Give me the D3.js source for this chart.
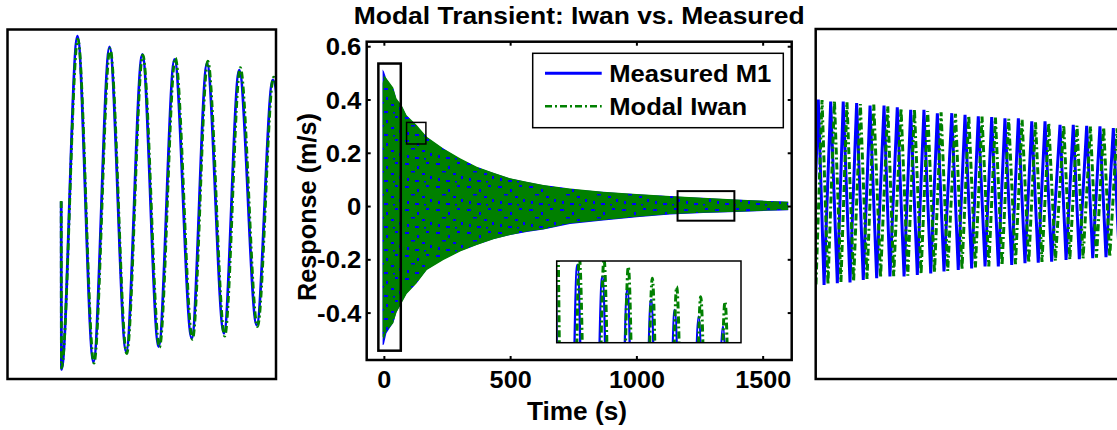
<!DOCTYPE html>
<html>
<head>
<meta charset="utf-8">
<script src="https://d3js.org/d3.v7.min.js"></script>
<style>
  body { margin: 0; background: #fff; }
  svg { display: block; font-family: "Liberation Sans", Arial, sans-serif; font-weight: bold; }
</style>
</head>
<body>
<div id="chart"></div>
<script>
// envelope of the whole record, main axes (time in s, response in m/s)
const envTime = [-5, 0, 10, 37, 50, 70, 90, 130, 170, 236, 302, 368, 434, 500, 566, 632, 737, 869, 1001, 1133, 1265, 1397, 1520, 1601];
const measuredTop = [0.513, 0.505, 0.478, 0.44, 0.40, 0.376, 0.338, 0.30, 0.257, 0.214, 0.177, 0.146, 0.124, 0.103, 0.09, 0.078, 0.064, 0.053, 0.044, 0.037, 0.030, 0.024, 0.019, 0.016];
const measuredBottom = [-0.522, -0.52, -0.478, -0.438, -0.398, -0.362, -0.327, -0.287, -0.238, -0.2, -0.169, -0.145, -0.124, -0.109, -0.097, -0.088, -0.067, -0.054, -0.042, -0.032, -0.026, -0.022, -0.018, -0.016];
const iwanTop = [0.46, 0.49, 0.48, 0.445, 0.404, 0.379, 0.341, 0.304, 0.26, 0.2165, 0.179, 0.1475, 0.125, 0.104, 0.091, 0.079, 0.066, 0.054, 0.045, 0.0375, 0.031, 0.025, 0.019, 0.016];
const iwanBottom = [-0.49, -0.50, -0.47, -0.44, -0.40, -0.365, -0.33, -0.29, -0.24, -0.2026, -0.171, -0.146, -0.125, -0.109, -0.096, -0.087, -0.065, -0.052, -0.040, -0.030, -0.025, -0.021, -0.017, -0.015];

const xTicks = [0, 500, 1000, 1500];
const yTicks = [-0.4, -0.2, 0, 0.2, 0.4, 0.6];
const seriesNames = ["Measured M1", "Modal Iwan"];

// zoom windows marked on the main axes: [t0, t1], [v0, v1]
const boxTimes = [[-21.8, 67], [89.9, 166.4], [1163, 1388]];
const boxLevels = [[-0.543, 0.535], [0.233, 0.314], [-0.055, 0.056]];

// left panel: start of the record, extrema of each half cycle
const startT = [0, 0.001, 0.0605, 0.120, 0.180, 0.242, 0.302, 0.363, 0.422, 0.486, 0.543, 0.606, 0.663, 0.728, 0.788, 0.85];
const startMeasured = [0.008, -0.52, 0.529, -0.496, 0.495, -0.464, 0.472, -0.448, 0.456, -0.422, 0.443, -0.406, 0.422, -0.380, 0.391, -0.36];
const startIwanT = [0, 0.001, 0.062, 0.122, 0.182, 0.244, 0.304, 0.366, 0.425, 0.489, 0.546, 0.609, 0.667, 0.731, 0.791, 0.853];
const startIwan = [0.01, -0.515, 0.52, -0.50, 0.49, -0.47, 0.47, -0.45, 0.46, -0.425, 0.45, -0.415, 0.43, -0.385, 0.40, -0.365];

// small inset: tops of the peaks around t = 90..166 s
const peakMeasuredT = [89.5, 93.5, 98.45, 103.6, 108.83, 114.0, 119.2, 124.1, 129.05, 134.0, 138.9, 143.9, 148.8, 153.8, 158.9, 164.0, 169.0];
const peakMeasured = [0.31, -0.29, 0.310, -0.285, 0.2984, -0.28, 0.2853, -0.27, 0.2753, -0.265, 0.2654, -0.26, 0.2588, -0.25, 0.2489, -0.245, 0.245];
const peakIwanT = [90.56, 95.0, 99.28, 104.4, 109.53, 114.6, 119.62, 124.6, 129.58, 134.6, 139.71, 144.7, 149.67, 154.7, 159.76, 164.8, 169.8];
const peakIwan = [0.32, -0.29, 0.318, -0.285, 0.316, -0.28, 0.3083, -0.275, 0.2968, -0.27, 0.2885, -0.26, 0.2786, -0.255, 0.2736, -0.25, 0.27];

// right panel: late part of the record (t = 1163..1388 s)
const lateMeasuredT = [1160.5, 1164.8, 1168.8, 1173.4, 1178.0, 1182.1, 1186.8, 1191.4, 1196.0, 1200.7, 1205.3, 1210.4, 1214.5, 1219.6, 1224.3, 1228.9, 1233.5, 1238.1, 1242.8, 1247.4, 1252.0, 1257.4, 1261.9, 1266.6, 1271.2, 1275.8, 1280.5, 1285.1, 1289.7, 1294.3, 1299.0, 1303.6, 1308.2, 1312.9, 1317.4, 1322.1, 1326.7, 1332.5, 1336.7, 1341.7, 1345.9, 1351.0, 1355.2, 1360.2, 1364.4, 1369.5, 1373.6, 1378.6];
const lateMeasured = [-0.0255, 0.0336, -0.0252, 0.0330, -0.0246, 0.0330, -0.0244, 0.0325, -0.0236, 0.0317, -0.0230, 0.0317, -0.0225, 0.0312, -0.0225, 0.0304, -0.0220, 0.0304, -0.0215, 0.0293, -0.0209, 0.0293, -0.0204, 0.0288, -0.0199, 0.0283, -0.0193, 0.0281, -0.0193, 0.0277, -0.0188, 0.0277, -0.0183, 0.0267, -0.0181, 0.0267, -0.0178, 0.0256, -0.0172, 0.0256, -0.0170, 0.0253, -0.0167, 0.0251, -0.0164, 0.0246, -0.0161, 0.0243];
const lateIwanT = [1163.2, 1167.4, 1171.5, 1176.0, 1180.5, 1184.7, 1189.3, 1194.0, 1198.6, 1203.3, 1208.0, 1213.0, 1217.1, 1222.2, 1226.9, 1231.5, 1236.1, 1240.7, 1245.4, 1250.0, 1254.6, 1260.0, 1264.5, 1269.2, 1273.8, 1278.4, 1283.1, 1287.7, 1292.3, 1296.9, 1301.6, 1306.2, 1310.8, 1315.5, 1320.0, 1324.7, 1329.3, 1335.1, 1339.3, 1344.3, 1348.5, 1353.6, 1357.8, 1362.8, 1367.0, 1372.1, 1376.2];
const lateIwan = [-0.0250, 0.0335, -0.0250, 0.0333, -0.0243, 0.0328, -0.0240, 0.0322, -0.0233, 0.0320, -0.0228, 0.0315, -0.0224, 0.0309, -0.0222, 0.0306, -0.0217, 0.0300, -0.0212, 0.0296, -0.0207, 0.0291, -0.0202, 0.0286, -0.0196, 0.0282, -0.0193, 0.0279, -0.0190, 0.0275, -0.0186, 0.0272, -0.0182, 0.0265, -0.0179, 0.0262, -0.0175, 0.0255, -0.0171, 0.0254, -0.0168, 0.0251, -0.0165, 0.0248, -0.0163, 0.0245, -0.0160];

const blue = "#0000ff", green = "#008000";
const dashDot = "7,3,2,3";

let W = 1117, H = 430;
let svg = d3.select("#chart").append("svg").attr("width", W).attr("height", H);
let defs = svg.append("defs");

// green band with the measured trace showing through the dash gaps
let pat = defs.append("pattern").attr("id", "speckle")
    .attr("patternUnits", "userSpaceOnUse").attr("width", 31).attr("height", 23);
pat.append("rect").attr("width", 31).attr("height", 23).attr("fill", green);
[[2, 2, 4, 2], [14, 5, 2, 3], [23, 1, 3, 2], [8, 10, 4, 1.5], [19, 12, 3, 2], [27, 15, 2, 3], [4, 17, 2, 3], [12, 19, 4, 2], [21, 20, 2, 1.5]].forEach(r => {
    pat.append("rect").attr("x", r[0]).attr("y", r[1]).attr("width", r[2]).attr("height", r[3]).attr("fill", blue);
});

function label(g, txt, x, y, size, sx, anchor, rot) {
    return g.append("text")
        .attr("transform", `translate(${x},${y}) rotate(${rot || 0}) scale(${sx},1)`)
        .attr("text-anchor", anchor)
        .style("font-size", size + "px")
        .text(txt);
}

// ---------------- main axes ----------------
let m = { left: 366.7, right: 791.7, top: 41.7, bottom: 360 };
let x = d3.scaleLinear().domain([-68, 1615]).range([m.left, m.right]);
let y = d3.scaleLinear().domain([-0.578, 0.617]).range([m.bottom, m.top]);

let main = svg.append("g");

let pts = envTime.map((t, i) => ({ t: t, mt: measuredTop[i], mb: measuredBottom[i], it: iwanTop[i], ib: iwanBottom[i] }));

main.append("path").datum(pts)
    .attr("d", d3.area().x(d => x(d.t)).y0(d => y(d.mb)).y1(d => y(d.mt)))
    .attr("fill", blue);
main.append("path").datum(pts)
    .attr("d", d3.area().x(d => x(d.t)).y0(d => y(d.ib)).y1(d => y(d.it)))
    .attr("fill", "url(#speckle)");

// zoom windows
let boxWidths = [2.5, 1.5, 2];
boxTimes.forEach((bt, i) => {
    main.append("rect")
        .attr("x", x(bt[0])).attr("y", y(boxLevels[i][1]))
        .attr("width", x(bt[1]) - x(bt[0])).attr("height", y(boxLevels[i][0]) - y(boxLevels[i][1]))
        .attr("fill", "none").attr("stroke", "black").attr("stroke-width", boxWidths[i]);
});

// axes with inward ticks
let xAxis = main.append("g").attr("transform", `translate(0,${m.bottom})`)
    .call(d3.axisBottom(x).tickValues(xTicks).tickSize(-4).tickPadding(11).tickFormat(d3.format("d")));
main.append("g").attr("transform", `translate(0,${m.top})`)
    .call(d3.axisTop(x).tickValues(xTicks).tickSize(-4).tickFormat(""));
let yAxis = main.append("g").attr("transform", `translate(${m.left},0)`)
    .call(d3.axisLeft(y).tickValues(yTicks).tickSize(-4).tickPadding(5)
        .tickFormat(d => d === 0 ? "0" : d3.format(".1f")(d).replace("\u2212", "-")));
main.append("g").attr("transform", `translate(${m.right},0)`)
    .call(d3.axisRight(y).tickValues(yTicks).tickSize(-4).tickFormat(""));

main.selectAll(".domain").remove();
main.selectAll(".tick line").attr("stroke", "black").attr("stroke-width", 2);
main.selectAll(".tick text")
    .attr("fill", "black")
    .style("font-size", "24px")
    .style("font-family", "'Liberation Sans', Arial, sans-serif")
    .style("font-weight", "bold");
xAxis.selectAll(".tick text").attr("transform", "scale(1.05,1)");
yAxis.selectAll(".tick text").attr("transform", "scale(1.07,1)").attr("dy", "0.36em");

main.append("rect")
    .attr("x", m.left).attr("y", m.top)
    .attr("width", m.right - m.left).attr("height", m.bottom - m.top)
    .attr("fill", "none").attr("stroke", "black").attr("stroke-width", 2.5);

label(svg, "Modal Transient: Iwan vs. Measured", (m.left + m.right) / 2, 24, 23, 1.15, "middle");
label(svg, "Time (s)", 577, 420, 25, 1.05, "middle");
label(svg, "Response (m/s)", 316, 207, 25, 1.01, "middle", -90);

// legend
let leg = svg.append("g");
leg.append("rect").attr("x", 532.7).attr("y", 53.3).attr("width", 250.6).attr("height", 74.4)
    .attr("fill", "white").attr("stroke", "black").attr("stroke-width", 1.5);
seriesNames.forEach((name, i) => {
    let ly = 73.3 + i * 33;
    leg.append("line").attr("x1", 545).attr("x2", 601.7).attr("y1", ly).attr("y2", ly)
        .attr("stroke", i === 0 ? blue : green).attr("stroke-width", i === 0 ? 3 : 2.5)
        .attr("stroke-dasharray", i === 0 ? null : dashDot);
    label(leg, name, 609.3, ly + 8.5, 24, 1.066, "start");
});

// ---------------- inset on the main axes ----------------
let ib = { left: 556.7, right: 741, top: 261, bottom: 342.7 };
let ix = d3.scaleLinear().domain(boxTimes[1]).range([ib.left, ib.right]);
let iy = d3.scaleLinear().domain(boxLevels[1]).range([ib.bottom, ib.top]);
defs.append("clipPath").attr("id", "clipInset").append("rect")
    .attr("x", ib.left).attr("y", ib.top).attr("width", ib.right - ib.left).attr("height", ib.bottom - ib.top);
let inset = svg.append("g");
inset.append("rect").attr("x", ib.left).attr("y", ib.top).attr("width", ib.right - ib.left).attr("height", ib.bottom - ib.top)
    .attr("fill", "white");
let insetLines = inset.append("g").attr("clip-path", "url(#clipInset)");
let iline = d3.line().x(d => ix(d[0])).y(d => iy(d[1])).curve(d3.curveMonotoneX);
insetLines.append("path").datum(peakMeasuredT.map((t, i) => [t, peakMeasured[i]]))
    .attr("d", iline).attr("fill", "none").attr("stroke", blue).attr("stroke-width", 2.5);
insetLines.append("path").datum(peakIwanT.map((t, i) => [t, peakIwan[i]]))
    .attr("d", iline).attr("fill", "none").attr("stroke", green).attr("stroke-width", 3).attr("stroke-dasharray", dashDot);
inset.append("rect").attr("x", ib.left).attr("y", ib.top).attr("width", ib.right - ib.left).attr("height", ib.bottom - ib.top)
    .attr("fill", "none").attr("stroke", "black").attr("stroke-width", 1.5);

// ---------------- left panel ----------------
let lb = { left: 7.5, right: 276, top: 29.5, bottom: 379 };
let lx = d3.scaleLinear().domain([-0.2, 0.8]).range([lb.left, lb.right]);
let ly = d3.scaleLinear().domain([-0.55, 0.55]).range([lb.bottom, lb.top]);
defs.append("clipPath").attr("id", "clipLeft").append("rect")
    .attr("x", lb.left).attr("y", lb.top).attr("width", lb.right - lb.left).attr("height", lb.bottom - lb.top);
let left = svg.append("g");
let lLines = left.append("g").attr("clip-path", "url(#clipLeft)");
let lline = d3.line().x(d => lx(d[0])).y(d => ly(d[1])).curve(d3.curveMonotoneX);
lLines.append("path").datum(startT.map((t, i) => [t, startMeasured[i]]))
    .attr("d", lline).attr("fill", "none").attr("stroke", blue).attr("stroke-width", 2.8);
lLines.append("path").datum(startIwanT.map((t, i) => [t, startIwan[i]]))
    .attr("d", lline).attr("fill", "none").attr("stroke", green).attr("stroke-width", 2.8).attr("stroke-dasharray", dashDot);
left.append("rect").attr("x", lb.left).attr("y", lb.top).attr("width", lb.right - lb.left).attr("height", lb.bottom - lb.top)
    .attr("fill", "none").attr("stroke", "black").attr("stroke-width", 2.5);

// ---------------- right panel ----------------
let rb = { left: 815.7, right: 1140, top: 29, bottom: 379 };
let rx = d3.scaleLinear().domain(boxTimes[2]).range([rb.left, rb.right]);
let ry = d3.scaleLinear().domain(boxLevels[2]).range([rb.bottom, rb.top]);
defs.append("clipPath").attr("id", "clipRight").append("rect")
    .attr("x", rb.left).attr("y", rb.top).attr("width", rb.right - rb.left).attr("height", rb.bottom - rb.top);
let right = svg.append("g");
let rLines = right.append("g").attr("clip-path", "url(#clipRight)");
let rline = d3.line().x(d => rx(d[0])).y(d => ry(d[1])).curve(d3.curveStepAfter);
rLines.append("path").datum(lateMeasuredT.map((t, i) => [t, lateMeasured[i]]))
    .attr("d", d3.line().x(d => rx(d[0])).y(d => ry(d[1])))
    .attr("fill", "none").attr("stroke", blue).attr("stroke-width", 3);
rLines.append("path").datum(lateIwanT.map((t, i) => [t, lateIwan[i]]))
    .attr("d", d3.line().x(d => rx(d[0])).y(d => ry(d[1])))
    .attr("fill", "none").attr("stroke", green).attr("stroke-width", 3).attr("stroke-dasharray", dashDot);
right.append("rect").attr("x", rb.left).attr("y", rb.top).attr("width", rb.right - rb.left).attr("height", rb.bottom - rb.top)
    .attr("fill", "none").attr("stroke", "black").attr("stroke-width", 2.5);
</script>
</body>
</html>
